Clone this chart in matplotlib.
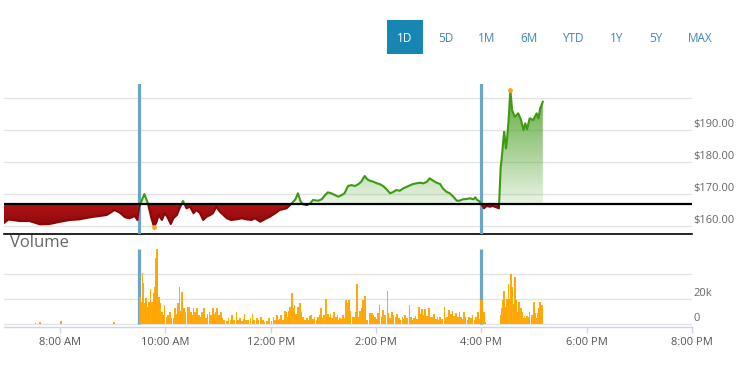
import numpy as np
import matplotlib
matplotlib.use("Agg")
import matplotlib.pyplot as plt
from matplotlib.patches import Polygon, Rectangle

plt.rcParams['font.family'] = ['Open Sans', 'DejaVu Sans']

# ---- data ----
prev_close = 167.0

price_times = [
    "6:56", "7:01", "7:14", "7:25", "7:37", "7:48", "8:00", "8:11", "8:22", "8:34",
    "8:45", "8:53", "9:02", "9:08", "9:14", "9:19", "9:25", "9:28",
    "9:30", "9:36", "9:40", "9:44", "9:47", "9:50", "9:52", "9:56", "9:59", "10:02",
    "10:06", "10:09", "10:13", "10:16", "10:20", "10:24", "10:28", "10:32", "10:35", "10:39",
    "10:43", "10:47", "10:51", "10:54", "10:58", "11:02", "11:06", "11:10", "11:15", "11:21",
    "11:27", "11:32", "11:38", "11:42", "11:48", "11:53", "11:59", "12:05", "12:10", "12:18",
    "12:24", "12:28", "12:31", "12:34", "12:37", "12:41", "12:45", "12:48", "12:54", "12:58",
    "13:02", "13:05", "13:09", "13:13", "13:17", "13:21", "13:24", "13:28", "13:32", "13:36",
    "13:40", "13:43", "13:47", "13:50", "13:53", "13:57", "14:01", "14:04", "14:08", "14:12",
    "14:16", "14:20", "14:23", "14:27", "14:31", "14:35", "14:39", "14:42", "14:46", "14:50",
    "14:54", "14:58", "15:01", "15:05", "15:09", "15:13", "15:16", "15:20", "15:24", "15:28",
    "15:32", "15:35", "15:39", "15:43", "15:47", "15:51", "15:53", "15:55", "15:57", "16:00",
    "16:03", "16:06", "16:10", "16:13", "16:17", "16:20", "16:22", "16:23", "16:25", "16:26",
    "16:28", "16:29", "16:31", "16:33", "16:35", "16:38", "16:42", "16:45", "16:48", "16:50",
    "16:52", "16:55", "16:59", "17:03", "17:05", "17:07", "17:10",
]
price_values = [
    160.94, 162.03, 161.56, 161.56, 160.53, 160.63, 161.34, 161.88, 162.09, 162.72,
    163.13, 163.44, 165.00, 164.16, 162.72, 162.41, 163.13, 161.88,
    166.03, 170.00, 167.09, 162.41, 159.78, 161.34, 163.44, 161.88, 163.97, 162.91,
    160.63, 162.41, 163.44, 165.53, 167.81, 165.53, 166.03, 163.97, 165.00, 164.16,
    161.88, 162.91, 163.44, 163.97, 166.03, 164.47, 163.44, 162.41, 161.88, 162.09,
    162.41, 162.09, 161.88, 162.41, 161.34, 162.09, 162.91, 163.97, 165.00, 165.53,
    167.09, 168.34, 170.22, 167.59, 166.78, 166.56, 167.09, 168.13, 167.91, 168.34,
    169.69, 170.53, 170.22, 169.69, 169.16, 169.69, 170.22, 172.50, 172.81, 172.50,
    173.13, 173.84, 175.63, 174.59, 174.16, 173.84, 173.34, 173.13, 172.50, 171.47,
    170.22, 170.72, 171.25, 171.03, 171.78, 172.28, 172.81, 173.13, 173.34, 173.53,
    173.34, 173.84, 174.91, 174.16, 173.53, 173.13, 171.78, 170.72, 170.22, 169.16,
    167.91, 167.91, 168.34, 168.44, 168.66, 168.34, 168.97, 168.13, 167.91, 166.88,
    165.53, 166.25, 166.03, 166.25, 165.84, 165.53, 178.53, 180.63, 186.88, 189.47,
    184.28, 186.34, 193.13, 202.50, 196.25, 194.16, 195.22, 193.34, 190.00, 192.09,
    190.22, 193.66, 193.13, 195.22, 193.66, 196.78, 198.84,
]

vol_times = [
    "7:32", "7:37", "8:01", "9:01", "9:02",
    "9:31", "9:33", "9:34", "9:35", "9:37", "9:38", "9:40", "9:41", "9:43", "9:45",
    "9:46", "9:47", "9:48", "9:49", "9:50", "9:51", "9:53", "9:54", "9:56", "9:57",
    "9:59", "10:01", "10:03", "10:05", "10:07", "10:09", "10:11", "10:13", "10:14", "10:16",
    "10:17", "10:19", "10:21", "10:23", "10:25", "10:27", "10:29", "10:30", "10:32", "10:34",
    "10:36", "10:38", "10:40", "10:42", "10:44", "10:46", "10:48", "10:50", "10:52", "10:54",
    "10:55", "10:57", "10:59", "11:01", "11:03", "11:05", "11:07", "11:10", "11:12", "11:14",
    "11:16", "11:18", "11:21", "11:23", "11:25", "11:27", "11:29", "11:30", "11:32", "11:34",
    "11:37", "11:39", "11:41", "11:44", "11:46", "11:49", "11:51", "11:53", "11:56", "11:58",
    "12:01", "12:03", "12:05", "12:07", "12:08", "12:10", "12:12", "12:14", "12:16", "12:18",
    "12:20", "12:21", "12:22", "12:24", "12:26", "12:27", "12:29", "12:31", "12:33", "12:35",
    "12:37", "12:39", "12:41", "12:43", "12:45", "12:46", "12:48", "12:50", "12:52", "12:54",
    "12:56", "12:57", "12:59", "13:01", "13:03", "13:05", "13:07", "13:08", "13:10", "13:12",
    "13:14", "13:16", "13:18", "13:19", "13:21", "13:22", "13:24", "13:26", "13:28", "13:29",
    "13:31", "13:33", "13:35", "13:37", "13:38", "13:40", "13:42", "13:44", "13:45", "13:47",
    "13:48", "13:50", "13:53", "13:55", "13:57", "13:59", "14:00", "14:02", "14:04", "14:06",
    "14:08", "14:10", "14:13", "14:14", "14:16", "14:18", "14:20", "14:22", "14:24", "14:26",
    "14:28", "14:30", "14:32", "14:33", "14:35", "14:38", "14:40", "14:41", "14:43", "14:45",
    "14:47", "14:49", "14:51", "14:52", "14:54", "14:56", "14:58", "15:00", "15:02", "15:04",
    "15:06", "15:08", "15:10", "15:11", "15:13", "15:15", "15:18", "15:19", "15:21", "15:23",
    "15:25", "15:27", "15:29", "15:31", "15:33", "15:35", "15:37", "15:38", "15:40", "15:42",
    "15:44", "15:46", "15:48", "15:50", "15:52", "15:54", "15:56", "15:57", "15:59",
    "16:01", "16:03", "16:04", "16:22", "16:23", "16:25", "16:26", "16:28", "16:29", "16:31",
    "16:32", "16:34", "16:35", "16:37", "16:38", "16:40", "16:42", "16:43", "16:45", "16:46",
    "16:48", "16:49", "16:51", "16:52", "16:54", "16:55", "16:57", "16:58", "17:00", "17:01",
    "17:03", "17:04", "17:06", "17:07", "17:09",
]
vol_k = [
    1.0, 1.5, 2.9, 1.5, 1.2,
    22, 18, 40.8, 32.8, 17, 20.8, 14, 18, 28, 18,
    14.5, 24.8, 30, 52.8, 60, 40.8, 22, 17, 10, 7.4,
    15.4, 6, 7.4, 10, 4.7, 4.7, 12.8, 8, 16.8, 29.6,
    11, 26, 12.8, 10, 14, 14, 10, 7.4, 12.8, 10,
    12.8, 7.4, 6, 10, 12.8, 4.7, 8, 10, 7.4, 12.8,
    8, 10, 12.8, 7.4, 10, 4.7, 3.4, 2.5, 4.7, 3.4,
    7.4, 3.4, 10, 3.4, 4.7, 2.5, 4, 8.3, 3.4, 3.4,
    4.7, 8.3, 3.4, 4.7, 3.4, 5.7, 3.4, 1.5, 2.5, 4.7,
    2.5, 6, 3.4, 7.4, 3.4, 4, 7.4, 3.4, 11, 10,
    6, 11, 14, 24.8, 12.8, 15.4, 8, 14, 17, 10,
    6, 3.4, 4.7, 3.4, 6.7, 7.4, 4, 6, 3.4, 5.7,
    7.4, 12.8, 4.7, 7.4, 20, 8, 5.7, 8, 4.7, 10,
    5.7, 7.4, 3.4, 4.8, 4, 7.4, 4.8, 19.4, 17, 19.4,
    11, 6, 5.6, 10, 32, 6, 11, 12.8, 19.4, 22.6,
    16, 3.4, 9.3, 8.8, 7.4, 5.6, 4, 9.3, 15.6, 6.1,
    11.4, 7.4, 26.9, 8.8, 4.8, 10.1, 7.4, 6.1, 8.2, 4.8,
    3.4, 6.1, 4, 7.4, 4.8, 15.2, 5.6, 3.4, 4.8, 6.6,
    4, 14, 8.2, 12, 7.4, 12, 6.6, 12.8, 5.6, 6.1,
    8.2, 4, 5.6, 3.4, 6.1, 4, 14, 4.8, 5.6, 11.4,
    8.2, 10.9, 6.6, 9.3, 5.6, 10.1, 5.6, 4, 10.1, 5.6,
    3.4, 6.1, 4.8, 7.4, 3.4, 5.6, 10.1, 4, 19.4,
    19.4, 10.1, 2.1, 7.4, 12.8, 19.4, 26.7, 14, 20, 32,
    20, 40.2, 30, 16, 38, 19.4, 10.1, 17.6, 12.8, 10.1,
    4.8, 6.6, 4.8, 6.6, 6.1, 10.1, 6.1, 7.4, 18, 8.8,
    4.8, 9.3, 12.8, 18, 15.4,
]

session_marks = ["9:30", "16:00"]
tick_times = ["8:00", "10:00", "12:00", "14:00", "16:00", "18:00", "20:00"]
tick_labels = ["8:00 AM", "10:00 AM", "12:00 PM", "2:00 PM", "4:00 PM", "6:00 PM", "8:00 PM"]
price_grid = [160, 170, 180, 190, 200]
price_labels = ["$160.00", "$170.00", "$180.00", "$190.00"]
vol_grid = [0, 20000, 40000]
vol_labels = ["0", "20k"]
ranges = ["1D", "5D", "1M", "6M", "YTD", "1Y", "5Y", "MAX"]


def hrs(s):
    h, m = s.split(":")
    return int(h) + int(m) / 60.0


t = np.array([hrs(s) for s in price_times])
p = np.array(price_values)

# add the points where the line crosses the previous close
tt, pc = [t[0]], [p[0]]
for i in range(1, len(t)):
    a, b = p[i - 1] - prev_close, p[i] - prev_close
    if a * b < 0:
        f = a / (a - b)
        tt.append(t[i - 1] + f * (t[i] - t[i - 1]))
        pc.append(prev_close)
    tt.append(t[i])
    pc.append(p[i])
tt, pc = np.array(tt), np.array(pc)

x0, x1 = hrs("6:56"), 20.0
y0, y1 = 157.5, 204.4
W, H = 753, 368

fig = plt.figure(figsize=(W / 100, H / 100), dpi=100)
ax = fig.add_axes([4 / W, 1 - 234 / H, 688 / W, 150 / H])
axv = fig.add_axes([4 / W, 1 - 327.3 / H, 688 / W, 91.3 / H])

# ---------------- price panel ----------------
for v in price_grid:
    ax.axhline(v, color='#e3e3e3', lw=1, zorder=0)
for v, lbl in zip(price_grid, price_labels):
    ax.annotate(lbl, xy=(1, v), xycoords=ax.get_yaxis_transform(), xytext=(1, 6),
                textcoords='offset pixels', ha='left', va='center', fontsize=8,
                color='#666666', annotation_clip=False)

# green gradient area above the close
up = Polygon(list(zip(tt, np.maximum(pc, prev_close))) + [(tt[-1], prev_close), (tt[0], prev_close)],
             closed=True, facecolor='none', edgecolor='none')
ax.add_patch(up)
n = 256
g = np.zeros((n, 1, 4))
g[..., 0], g[..., 1], g[..., 2] = 0.30, 0.63, 0.15
g[:, 0, 3] = np.linspace(0.12, 0.95, n)
im = ax.imshow(g, extent=[x0, x1, prev_close, y1], origin='lower', aspect='auto', zorder=1)
im.set_clip_path(up)

# red area below the close
dn = Polygon(list(zip(tt, np.minimum(pc, prev_close))) + [(tt[-1], prev_close), (tt[0], prev_close)],
             closed=True, facecolor='none', edgecolor='none')
ax.add_patch(dn)
r = np.zeros((n, 1, 4))
r[:, 0, 0] = np.linspace(0.50, 0.70, n)
r[:, 0, 1] = np.linspace(0.02, 0.08, n)
r[:, 0, 2] = np.linspace(0.02, 0.09, n)
r[:, 0, 3] = 1.0
im2 = ax.imshow(r, extent=[x0, x1, y0, prev_close], origin='lower', aspect='auto', zorder=1)
im2.set_clip_path(dn)

ax.set_xlim(x0, x1)
ax.set_ylim(y0, y1)

for tv in session_marks:
    ax.axvline(hrs(tv), color='#6aa6ca', lw=2.3, zorder=3)

ln_up, = ax.plot(tt, pc, color='#3e9a10', lw=1.5, zorder=4)
ln_up.set_clip_path(Rectangle((x0, prev_close), x1 - x0, 100, transform=ax.transData))
ln_dn, = ax.plot(tt, pc, color='#8a0606', lw=1.5, zorder=4)
ln_dn.set_clip_path(Rectangle((x0, prev_close - 100), x1 - x0, 100, transform=ax.transData))

ax.axhline(prev_close, color='black', lw=1.6, zorder=5)

imin, imax = np.argmin(p), np.argmax(p)
ax.plot([t[imin], t[imax]], [p[imin], p[imax]], 'o', ms=3.5, color='#f5a623',
        mec='none', zorder=6)

for s in ['top', 'left', 'right']:
    ax.spines[s].set_visible(False)
ax.spines['bottom'].set_color('black')
ax.spines['bottom'].set_linewidth(1.2)
ax.set_xticks([])
ax.set_yticks([])

# ---------------- volume panel ----------------
vt = np.array([hrs(s) for s in vol_times])
vv = np.array(vol_k) * 1000

for v in vol_grid:
    axv.axhline(v, color='#e3e3e3', lw=1, zorder=0)
for v, lbl in zip(vol_grid, vol_labels):
    axv.annotate(lbl, xy=(1, v), xycoords=axv.get_yaxis_transform(), xytext=(1, 6),
                 textcoords='offset pixels', ha='left', va='center', fontsize=8,
                 color='#666666', annotation_clip=False)

axv.vlines([hrs(s) for s in session_marks], 0, 60000, color='#6aa6ca', lw=2.3, zorder=1)
axv.bar(vt, vv, width=1.9 / 60, color='#ffa500', linewidth=0, zorder=2, alpha=0.95)

axv.set_xlim(x0, x1)
axv.set_ylim(-2400, 70640)
for s in ['top', 'left', 'right']:
    axv.spines[s].set_visible(False)
axv.spines['bottom'].set_color('#ccd6eb')
axv.spines['bottom'].set_linewidth(1)
axv.set_yticks([])
axv.set_xticks([hrs(s) for s in tick_times])
axv.set_xticklabels(tick_labels)
axv.tick_params(axis='x', length=4.5, width=1, color='#ccd6eb', labelcolor='#555555',
                labelsize=8, pad=2.5)

fig.text(10 / W, 1 - 243 / H, "Volume", fontsize=12, color='#666666', va='center', ha='left')

# ---------------- range buttons ----------------
btn_x = [405, 446, 487, 529, 573, 617, 656, 700]
fig.patches.append(Rectangle((387 / W, 1 - 54 / H), 35.5 / W, 34 / H,
                             transform=fig.transFigure, facecolor='#1786b3', edgecolor='none'))
for i, (lbl, bx) in enumerate(zip(ranges, btn_x)):
    fig.text(bx / W, 1 - 38 / H, lbl, fontsize=8.5, ha='center', va='center',
             color='white' if i == 0 else '#3f86b5')

fig.savefig("out.png", dpi=100)
